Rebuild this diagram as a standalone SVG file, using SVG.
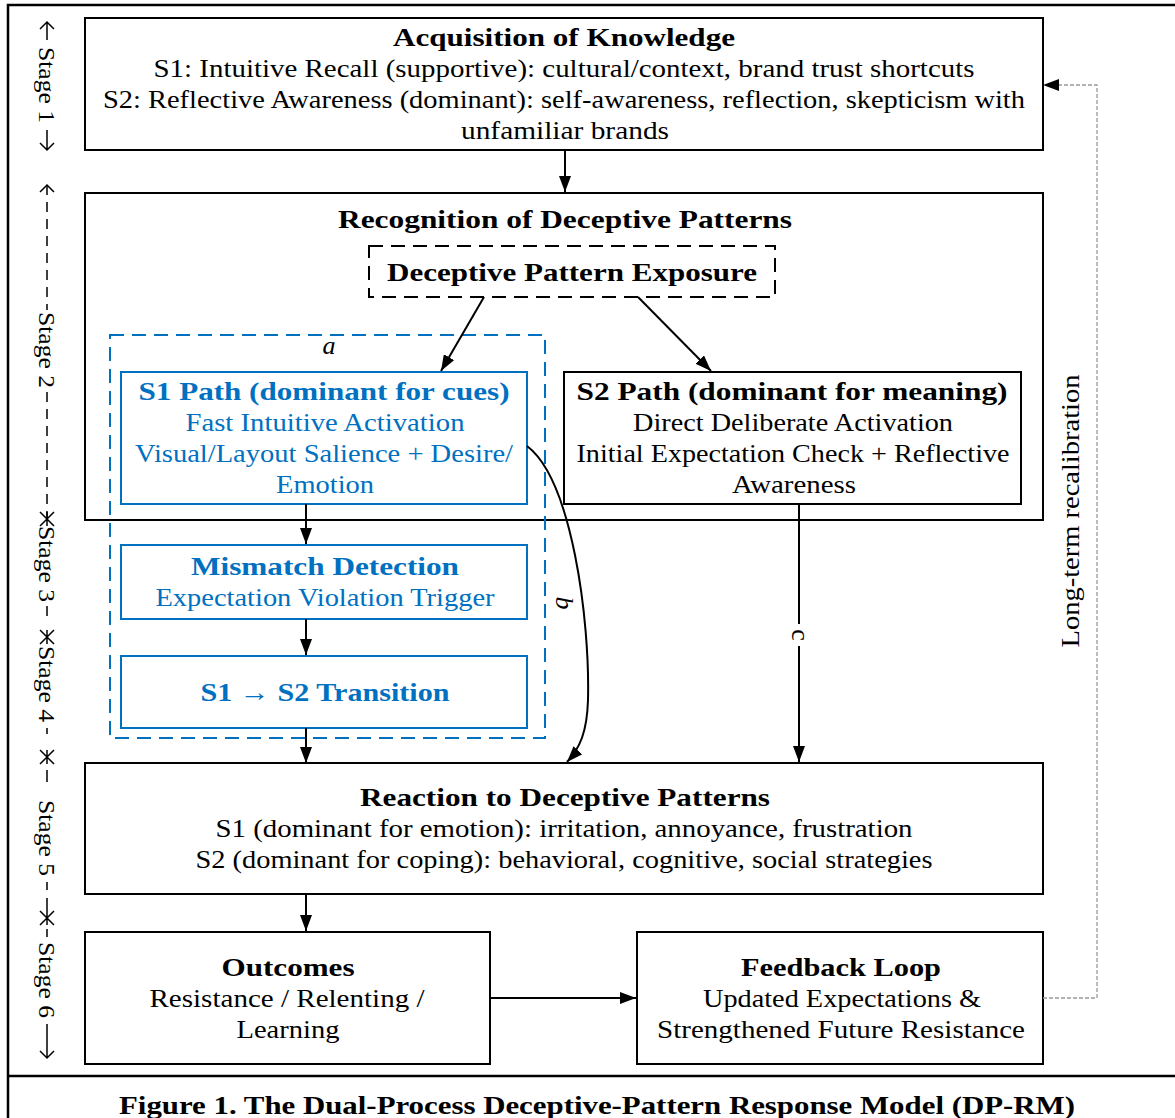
<svg xmlns="http://www.w3.org/2000/svg" width="1175" height="1118" viewBox="0 0 1175 1118">
<defs>
<style>
.box{fill:#fff;stroke:#000;stroke-width:2}
.bbox{fill:#fff;stroke:#0070C0;stroke-width:2}
.t{font-family:"Liberation Serif",serif;font-size:26px;fill:#000;text-anchor:middle}
.b{font-weight:bold}
.blue{fill:#0070C0}
.edge{fill:none;stroke:#000;stroke-width:2}
.st{font-family:"Liberation Serif",serif;font-size:24px;fill:#000;text-anchor:middle}
.stl{fill:none;stroke:#000;stroke-width:1.5}
</style>
<marker id="ah2" viewBox="0 0 16 12" refX="16" refY="6" markerWidth="16" markerHeight="12" markerUnits="userSpaceOnUse" orient="auto">
<path d="M0,0 L16,6 L0,12 z" fill="#000"/>
</marker>
</defs>

<!-- outer frame -->
<g id="frame">
<path d="M8,1118 V5 H1175" fill="none" stroke="#000" stroke-width="2.5"/>
<path d="M8,1076 H1175" fill="none" stroke="#000" stroke-width="2.5"/>
</g>

<!-- stage axis -->
<g id="stages">
<path class="stl" d="M47,22 V40 M47,130 V150 M40,29 L47,22 L54,29 M40,143 L47,150 L54,143"/>
<text class="st" transform="translate(47,85) rotate(90)" textLength="76" lengthAdjust="spacingAndGlyphs" dy="8">Stage 1</text>
<path class="stl" d="M47,185 V310 M47,392 V519" stroke-dasharray="10 7"/>
<path class="stl" d="M40,192 L47,185 L54,192"/>
<text class="st" transform="translate(47,350) rotate(90)" textLength="76" lengthAdjust="spacingAndGlyphs" dy="8">Stage 2</text>
<path class="stl" d="M40,512 L47,519 L54,512 M40,526 L47,519 L54,526 M47,512 V526"/>
<text class="st" transform="translate(47,564) rotate(90)" textLength="76" lengthAdjust="spacingAndGlyphs" dy="8">Stage 3</text>
<path class="stl" d="M47,606 V616 M40,630 L47,637 L54,630 M40,644 L47,637 L54,644 M47,630 V644"/>
<text class="st" transform="translate(47,684) rotate(90)" textLength="76" lengthAdjust="spacingAndGlyphs" dy="8">Stage 4</text>
<path class="stl" d="M47,728 V734 M40,750 L47,757 L54,750 M40,764 L47,757 L54,764 M47,750 V764 M47,770 V782"/>
<text class="st" transform="translate(47,838) rotate(90)" textLength="76" lengthAdjust="spacingAndGlyphs" dy="8">Stage 5</text>
<path class="stl" d="M47,882 V890 M47,898 V911 M40,911 L47,918 L54,911 M40,925 L47,918 L54,925 M47,911 V925 M47,929 V937"/>
<text class="st" transform="translate(47,980) rotate(90)" textLength="76" lengthAdjust="spacingAndGlyphs" dy="8">Stage 6</text>
<path class="stl" d="M47,1024 V1058 M40,1051 L47,1058 L54,1051"/>
</g>

<g id="acquisition">
<rect class="box" x="85" y="18" width="958" height="132"/>
<text class="t b" x="564" y="46" textLength="342" lengthAdjust="spacingAndGlyphs">Acquisition of Knowledge</text>
<text class="t" x="564" y="77" textLength="821" lengthAdjust="spacingAndGlyphs">S1: Intuitive Recall (supportive): cultural/context, brand trust shortcuts</text>
<text class="t" x="564" y="108" textLength="922" lengthAdjust="spacingAndGlyphs">S2: Reflective Awareness (dominant): self-awareness, reflection, skepticism with</text>
<text class="t" x="565" y="139" textLength="208" lengthAdjust="spacingAndGlyphs">unfamiliar brands</text>
</g>

<g id="recognition">
<rect class="box" x="85" y="193" width="958" height="327"/>
<text class="t b" x="565" y="228" textLength="454" lengthAdjust="spacingAndGlyphs">Recognition of Deceptive Patterns</text>
</g>

<g id="exposure">
<rect x="369" y="246" width="406" height="51" fill="#fff" stroke="#000" stroke-width="2" stroke-dasharray="14 8"/>
<text class="t b" x="572" y="281" textLength="370" lengthAdjust="spacingAndGlyphs">Deceptive Pattern Exposure</text>
</g>

<g id="s1-group">
<rect x="110" y="335" width="435" height="403" fill="none" stroke="#0070C0" stroke-width="2" stroke-dasharray="14 8"/>
<text class="t" x="329" y="354" font-style="italic">a</text>
</g>

<g id="s1-path">
<rect class="bbox" x="121" y="372" width="406" height="132"/>
<text class="t b blue" x="324" y="400" textLength="371" lengthAdjust="spacingAndGlyphs">S1 Path (dominant for cues)</text>
<text class="t blue" x="325" y="431" textLength="279" lengthAdjust="spacingAndGlyphs">Fast Intuitive Activation</text>
<text class="t blue" x="324" y="462" textLength="378" lengthAdjust="spacingAndGlyphs">Visual/Layout Salience + Desire/</text>
<text class="t blue" x="325" y="493" textLength="98" lengthAdjust="spacingAndGlyphs">Emotion</text>
</g>

<g id="s2-path">
<rect class="box" x="564" y="372" width="457" height="132"/>
<text class="t b" x="792" y="400" textLength="431" lengthAdjust="spacingAndGlyphs">S2 Path (dominant for meaning)</text>
<text class="t" x="793" y="431" textLength="320" lengthAdjust="spacingAndGlyphs">Direct Deliberate Activation</text>
<text class="t" x="793" y="462" textLength="433" lengthAdjust="spacingAndGlyphs">Initial Expectation Check + Reflective</text>
<text class="t" x="794" y="493" textLength="124" lengthAdjust="spacingAndGlyphs">Awareness</text>
</g>

<g id="mismatch">
<rect class="bbox" x="121" y="545" width="406" height="74"/>
<text class="t b blue" x="325" y="575" textLength="268" lengthAdjust="spacingAndGlyphs">Mismatch Detection</text>
<text class="t blue" x="325" y="606" textLength="339" lengthAdjust="spacingAndGlyphs">Expectation Violation Trigger</text>
</g>

<g id="transition">
<rect class="bbox" x="121" y="656" width="406" height="72"/>
<text class="t b blue" x="325" y="701" textLength="249" lengthAdjust="spacingAndGlyphs">S1 → S2 Transition</text>
</g>

<g id="reaction">
<rect class="box" x="85" y="763" width="958" height="131"/>
<text class="t b" x="565" y="806" textLength="410" lengthAdjust="spacingAndGlyphs">Reaction to Deceptive Patterns</text>
<text class="t" x="564" y="837" textLength="697" lengthAdjust="spacingAndGlyphs">S1 (dominant for emotion): irritation, annoyance, frustration</text>
<text class="t" x="564" y="868" textLength="737" lengthAdjust="spacingAndGlyphs">S2 (dominant for coping): behavioral, cognitive, social strategies</text>
</g>

<g id="outcomes">
<rect class="box" x="85" y="932" width="405" height="132"/>
<text class="t b" x="288" y="976" textLength="133" lengthAdjust="spacingAndGlyphs">Outcomes</text>
<text class="t" x="287" y="1007" textLength="275" lengthAdjust="spacingAndGlyphs">Resistance / Relenting /</text>
<text class="t" x="288" y="1038" textLength="103" lengthAdjust="spacingAndGlyphs">Learning</text>
</g>

<g id="feedback">
<rect class="box" x="637" y="932" width="406" height="132"/>
<text class="t b" x="841" y="976" textLength="200" lengthAdjust="spacingAndGlyphs">Feedback Loop</text>
<text class="t" x="842" y="1007" textLength="278" lengthAdjust="spacingAndGlyphs">Updated Expectations &amp;</text>
<text class="t" x="841" y="1038" textLength="368" lengthAdjust="spacingAndGlyphs">Strengthened Future Resistance</text>
</g>

<!-- connectors -->
<g id="connectors">
<path class="edge" d="M565,150 V192" marker-end="url(#ah2)"/>
<path class="edge" d="M484,297 L441,371" stroke-width="1.8" marker-end="url(#ah2)"/>
<path class="edge" d="M638,297 L711,371" stroke-width="1.8" marker-end="url(#ah2)"/>
<path class="edge" d="M306,504 V544" marker-end="url(#ah2)"/>
<path class="edge" d="M306,619 V655" marker-end="url(#ah2)"/>
<path class="edge" d="M306,728 V763" marker-end="url(#ah2)"/>
<path class="edge" d="M527,446 C572,480 590,620 588,700 C587,732 580,748 567,762" stroke-width="1.8" marker-end="url(#ah2)"/>
<path class="edge" d="M799,505 V762" marker-end="url(#ah2)"/>
<path class="edge" d="M306,894 V931" marker-end="url(#ah2)"/>
<path class="edge" d="M490,998 H636" marker-end="url(#ah2)"/>
<path d="M1043,998 H1097 V85 H1056" fill="none" stroke="#999" stroke-width="1.3" stroke-dasharray="4 2"/>
<path d="M1043,85 L1059,79 L1059,91 z" fill="#000"/>
<text class="t" transform="translate(1070,511) rotate(-90)" dy="9" font-size="27" textLength="273" lengthAdjust="spacingAndGlyphs">Long-term recalibration</text>
<rect x="789" y="624" width="20" height="22" fill="#fff"/>
<text class="t" transform="translate(799,635) rotate(90)" dy="7" font-size="26">c</text>
<text class="t" transform="translate(563,603) rotate(90)" dy="7" font-size="26" font-style="italic">b</text>
</g>

<g id="caption">
<text class="t b" x="597" y="1114" font-size="26" textLength="956" lengthAdjust="spacingAndGlyphs">Figure 1. The Dual-Process Deceptive-Pattern Response Model (DP-RM)</text>
</g>
</svg>
